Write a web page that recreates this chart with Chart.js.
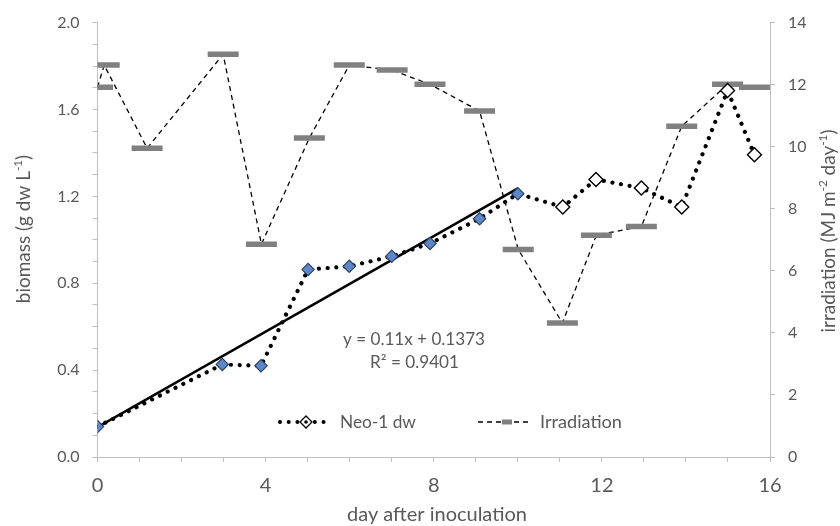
<!DOCTYPE html>
<html>
<head>
<meta charset="utf-8">
<script src="https://cdn.jsdelivr.net/npm/chart.js@4.4.0/dist/chart.umd.min.js"></script>
<style>
  html, body { margin: 0; padding: 0; background: #ffffff; }
  #c { display: block; }
</style>
</head>
<body>
<canvas id="c" width="840" height="526"></canvas>
<script>
// ---------------- data ----------------
const biomassDays      = [0, 2.97, 3.89, 5.01, 5.99, 7.0, 7.91, 9.09, 10.0, 11.07, 11.86, 12.94, 13.9, 14.99, 15.63];
const biomassValues    = [0.14, 0.426, 0.42, 0.863, 0.878, 0.924, 0.983, 1.097, 1.212, 1.151, 1.278, 1.238, 1.151, 1.687, 1.392];
const fittedPointCount = 9;   // first points (filled markers) used for the linear fit

const irradiationDays   = [0, 0.16, 1.18, 2.99, 3.9, 5.04, 5.99, 7.01, 7.91, 9.09, 10.01, 11.06, 11.87, 12.94, 13.9, 14.99, 15.63];
const irradiationValues = [11.92, 12.63, 9.95, 12.98, 6.86, 10.28, 12.63, 12.47, 12.01, 11.15, 6.69, 4.32, 7.15, 7.43, 10.66, 12.01, 11.92];

const trendDays   = [0, 10];
const trendValues = [0.1373, 1.2373];
const trendSlope = '0.11', trendIntercept = '0.1373', trendR2 = '0.9401';

const xTickLabels  = [0, 4, 8, 12, 16];
const yTickLabels  = ['0.0', '0.4', '0.8', '1.2', '1.6', '2.0'];
const y1TickLabels = [0, 2, 4, 6, 8, 10, 12, 14];

const seriesNames = ['Neo-1 dw', 'Irradiation'];
const xTitle = 'day after inoculation';

// ---------------- styling ----------------
const TEXT = '#595959';
const AXIS = '#bfbfbf';
const FAMILY = 'Lato';

const measurer = document.createElement('canvas').getContext('2d');
function fitSize(text, target) {
  measurer.font = '100px ' + FAMILY;
  return 100 * target / measurer.measureText(text).width;
}
function partsWidth(parts, size) {
  let w = 0;
  for (const p of parts) {
    measurer.font = (p.sup ? size * 0.62 : size) + 'px ' + FAMILY;
    w += measurer.measureText(p.t).width;
  }
  return w;
}
function fitParts(parts, target) {
  return 100 * target / partsWidth(parts, 100);
}

const leftTitle  = [{t: 'biomass (g dw L'}, {t: '-1', sup: true}, {t: ')'}];
const rightTitle = [{t: 'irradiation (MJ m'}, {t: '-2', sup: true}, {t: ' day'}, {t: '-1', sup: true}, {t: ')'}];

const eqText = 'y = ' + trendSlope + 'x + ' + trendIntercept;
const r2Text = 'R\u00B2 = ' + trendR2;

const sizes = {
  eq: fitSize(eqText, 142),
  r2: fitSize(r2Text, 89),
  leg1: fitSize(seriesNames[0], 76),
  leg2: fitSize(seriesNames[1], 82),
  xt: fitSize(xTitle, 180),
  rt: fitParts(rightTitle, 203)
};
sizes.lt = sizes.rt;

function drawParts(c, parts, size, cx, cy) {
  const total = partsWidth(parts, size);
  c.save();
  c.translate(cx, cy);
  c.rotate(-Math.PI / 2);
  c.textBaseline = 'middle';
  c.textAlign = 'left';
  c.fillStyle = TEXT;
  let x = -total / 2;
  for (const p of parts) {
    const s = p.sup ? size * 0.62 : size;
    c.font = s + 'px ' + FAMILY;
    c.fillText(p.t, x, p.sup ? -size * 0.3 : 0);
    x += c.measureText(p.t).width;
  }
  c.restore();
}

function diamond(c, x, y, r, fill, stroke, lw) {
  c.beginPath();
  c.moveTo(x, y - r); c.lineTo(x + r, y); c.lineTo(x, y + r); c.lineTo(x - r, y); c.closePath();
  c.fillStyle = fill; c.fill();
  c.lineWidth = lw; c.strokeStyle = stroke; c.stroke();
}

const overlay = {
  id: 'overlay',
  afterDraw(chart) {
    const c = chart.ctx;
    c.save();
    c.fillStyle = TEXT;
    c.textAlign = 'center';
    c.textBaseline = 'middle';
    c.font = sizes.eq + 'px ' + FAMILY;
    c.fillText(eqText, 414, 339);
    c.font = sizes.r2 + 'px ' + FAMILY;
    c.fillText(r2Text, 414.5, 362);

    // x title
    c.font = sizes.xt + 'px ' + FAMILY;
    c.fillText(xTitle, 437, 515);

    // axis titles
    drawParts(c, leftTitle, sizes.lt, 23.5, 229);
    drawParts(c, rightTitle, sizes.rt, 829, 231);

    // legend
    const ly = 422;
    c.save();
    c.strokeStyle = '#000'; c.lineWidth = 4; c.lineCap = 'round';
    c.setLineDash([0.01, 8.7]);
    c.beginPath(); c.moveTo(280, ly); c.lineTo(325, ly); c.stroke();
    c.restore();
    diamond(c, 306, ly, 6, '#ffffff', '#000000', 1.3);
    c.beginPath(); c.arc(306, ly, 1.8, 0, Math.PI * 2); c.fillStyle = '#000'; c.fill();
    c.fillStyle = TEXT; c.textAlign = 'left';
    c.font = sizes.leg1 + 'px ' + FAMILY;
    c.fillText(seriesNames[0], 340, ly);

    c.save();
    c.strokeStyle = '#000'; c.lineWidth = 1.3; c.setLineDash([5, 4]);
    c.beginPath(); c.moveTo(478, ly); c.lineTo(528, ly); c.stroke();
    c.restore();
    c.save();
    c.strokeStyle = '#808080'; c.lineWidth = 5;
    c.beginPath(); c.moveTo(502, ly); c.lineTo(512, ly); c.stroke();
    c.restore();
    c.fillStyle = TEXT;
    c.font = sizes.leg2 + 'px ' + FAMILY;
    c.fillText(seriesNames[1], 540, ly);
    c.restore();
  }
};

const isFitted = ctx => ctx.dataIndex < fittedPointCount;

new Chart(document.getElementById('c'), {
  type: 'scatter',
  data: {
    datasets: [
      {
        label: seriesNames[0],
        yAxisID: 'y',
        data: biomassDays.map((d, i) => ({x: d, y: biomassValues[i]})),
        showLine: true,
        borderColor: '#000000',
        borderWidth: 4.2,
        borderDash: [0.01, 8.7],
        borderCapStyle: 'round',
        pointStyle: 'rectRot',
        pointRadius: ctx => isFitted(ctx) ? 6.2 : 7,
        pointBackgroundColor: ctx => isFitted(ctx) ? '#5f87c6' : '#ffffff',
        pointBorderColor: ctx => isFitted(ctx) ? '#243f66' : '#000000',
        pointBorderWidth: ctx => isFitted(ctx) ? 1.1 : 1.4,
        tension: 0
      },
      {
        label: 'trend',
        yAxisID: 'y',
        data: trendDays.map((d, i) => ({x: d, y: trendValues[i]})),
        showLine: true,
        borderColor: '#000000',
        borderWidth: 2.6,
        pointRadius: 0
      },
      {
        label: seriesNames[1],
        yAxisID: 'y1',
        data: irradiationDays.map((d, i) => ({x: d, y: irradiationValues[i]})),
        showLine: true,
        borderColor: '#000000',
        borderWidth: 1.3,
        borderDash: [5, 4],
        pointStyle: 'line',
        pointRadius: 15.5,
        pointBorderWidth: 5.5,
        pointBorderColor: '#808080',
        pointBackgroundColor: '#808080'
      }
    ]
  },
  options: {
    responsive: false,
    animation: false,
    devicePixelRatio: 1,
    layout: { padding: { top: 22, left: 0, right: 0, bottom: 0 } },
    plugins: { legend: { display: false }, tooltip: { enabled: false } },
    scales: {
      x: {
        type: 'linear', min: 0, max: 16,
        afterFit: s => { s.height = 69; },
        ticks: {
          stepSize: 1, autoSkip: false, maxRotation: 0, padding: 12,
          color: TEXT, font: { family: FAMILY, size: 20 },
          callback: v => xTickLabels.includes(v) ? String(v) : ''
        },
        grid: { drawOnChartArea: false, color: AXIS, tickLength: 5 },
        border: { color: AXIS, width: 1 }
      },
      y: {
        position: 'left', min: 0, max: 2,
        afterFit: s => { s.width = 97.5; },
        ticks: {
          stepSize: 0.1, autoSkip: false, padding: 13,
          color: TEXT, font: { family: FAMILY, size: 16 },
          callback: v => { const t = Number(v).toFixed(1); return yTickLabels.includes(t) ? t : ''; }
        },
        grid: { drawOnChartArea: false, color: AXIS, tickLength: 5 },
        border: { color: AXIS, width: 1 }
      },
      y1: {
        position: 'right', min: 0, max: 14,
        afterFit: s => { s.width = 70; },
        ticks: {
          stepSize: 2, autoSkip: false, padding: 13,
          color: TEXT, font: { family: FAMILY, size: 16 },
          callback: v => y1TickLabels.includes(v) ? String(v) : ''
        },
        grid: { drawOnChartArea: false, color: AXIS, tickLength: 5 },
        border: { color: AXIS, width: 1 }
      }
    }
  },
  plugins: [overlay]
});
</script>
</body>
</html>
